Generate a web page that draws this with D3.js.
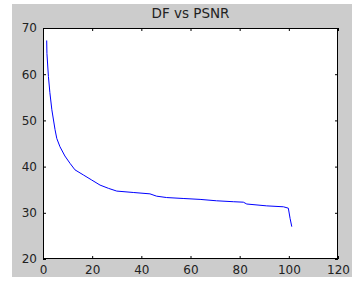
<!doctype html>
<html>
<head>
<meta charset="UTF-8">
<title>DF vs PSNR</title>
<script src="https://d3js.org/d3.v7.min.js"></script>
<style>
  body { margin: 0; background: #fff; }
  svg { display: block; }
  text { font-family: "DejaVu Sans", sans-serif; fill: #222; }
</style>
</head>
<body>
<svg id="chart" width="352" height="285"></svg>
<script>
// values
var df   = [1.5, 1.6, 2.2, 2.8, 3.6, 4.9, 5.6, 6.9, 8.9, 11, 13, 16.4, 19.8, 23.2, 26.6, 30,
            36.7, 43.5, 46.2, 50.3, 57, 63.9, 70.6, 77.4, 81.5, 82.9, 91, 97.8, 99.8, 100.5, 101.2];
var psnr = [67.3, 64.5, 59.5, 56, 52.3, 48, 46.1, 44.3, 42.3, 40.7, 39.3, 38.2, 37.1, 36, 35.3, 34.7,
            34.4, 34.1, 33.6, 33.3, 33.1, 32.9, 32.6, 32.4, 32.3, 31.9, 31.5, 31.3, 31.0, 28.8, 27];
var xTicks = [0, 20, 40, 60, 80, 100, 120];
var yTicks = [20, 30, 40, 50, 60, 70];
var title = "DF vs PSNR";

var svg = d3.select("#chart");
// plot box (note: "top" is taken by window.top, so use other names)
var pL = 43, pR = 338, pT = 28, pB = 259;

// gray figure background
svg.append("rect")
   .attr("x", 12).attr("y", 4)
   .attr("width", 340).attr("height", 273)
   .attr("fill", "#cccccc");

svg.append("rect")
   .attr("x", pL).attr("y", pT)
   .attr("width", pR - pL).attr("height", pB - pT)
   .attr("fill", "#fff");

var x = d3.scaleLinear().domain([0, 120]).range([pL, pR]);
var y = d3.scaleLinear().domain([20, 70]).range([pB, pT]);

function styleAxis(g) {
  g.select(".domain").remove();
  g.selectAll(".tick line").attr("stroke", "#000");
  g.selectAll(".tick text").attr("font-size", 12).attr("fill", "#222")
   .attr("font-family", "DejaVu Sans, sans-serif");
}

// bottom and left axes with inward ticks
svg.append("g").attr("transform", "translate(0," + pB + ")")
   .call(d3.axisBottom(x).tickValues(xTicks).tickSizeInner(-3).tickSizeOuter(0).tickPadding(6))
   .call(styleAxis);
svg.append("g").attr("transform", "translate(" + pL + ",0)")
   .call(d3.axisLeft(y).tickValues(yTicks).tickSizeInner(-3).tickSizeOuter(0).tickPadding(6))
   .call(styleAxis);
// mirrored ticks on top and right, no labels
svg.append("g").attr("transform", "translate(0," + pT + ")")
   .call(d3.axisTop(x).tickValues(xTicks).tickSizeInner(-3).tickSizeOuter(0).tickFormat(""))
   .call(styleAxis);
svg.append("g").attr("transform", "translate(" + pR + ",0)")
   .call(d3.axisRight(y).tickValues(yTicks).tickSizeInner(-3).tickSizeOuter(0).tickFormat(""))
   .call(styleAxis);

// frame
svg.append("rect")
   .attr("x", pL + 0.5).attr("y", pT + 0.5)
   .attr("width", pR - pL - 1).attr("height", pB - pT - 1)
   .attr("fill", "none").attr("stroke", "#000");

var line = d3.line()
   .x(function(d, i) { return x(df[i]); })
   .y(function(d) { return y(d); });

svg.append("path")
   .datum(psnr)
   .attr("d", line)
   .attr("fill", "none")
   .attr("stroke", "#0000ff")
   .attr("stroke-width", 1);

svg.append("text")
   .attr("x", (pL + pR) / 2).attr("y", 18)
   .attr("text-anchor", "middle")
   .attr("font-size", 13.5)
   .text(title);
</script>
</body>
</html>
